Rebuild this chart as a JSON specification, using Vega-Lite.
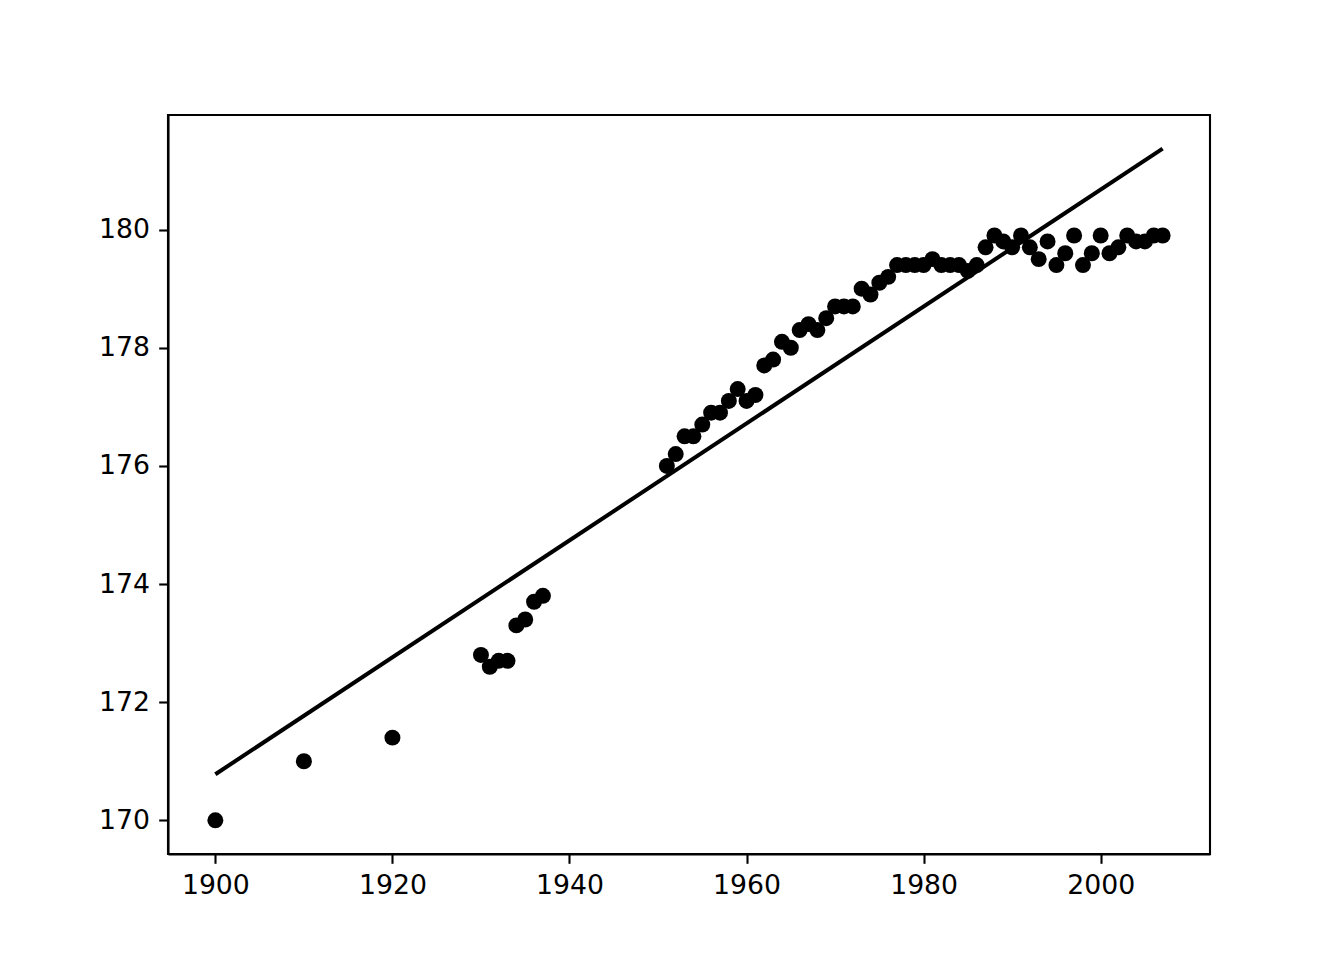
{
  "$schema": "https://vega.github.io/schema/vega-lite/v6.json",
  "width": 1042,
  "height": 739,
  "autosize": {"type": "none"},
  "padding": {"left": 168, "top": 115, "right": 134, "bottom": 106},
  "background": "white",
  "config": {
    "view": {"stroke": "black", "strokeWidth": 2.1},
    "axis": {
      "grid": false,
      "domainColor": "black",
      "domainWidth": 2.1,
      "tickColor": "black",
      "tickWidth": 2.1,
      "tickSize": 9.3,
      "labelPadding": 9.3,
      "labelFont": "DejaVu Sans",
      "labelFontSize": 26.7,
      "labelColor": "black",
      "title": null
    }
  },
  "datasets": {
    "pts": [
      {"year": 1900, "height": 170.0}, {"year": 1910, "height": 171.0}, {"year": 1920, "height": 171.4},
      {"year": 1930, "height": 172.8}, {"year": 1931, "height": 172.6}, {"year": 1932, "height": 172.7},
      {"year": 1933, "height": 172.7}, {"year": 1934, "height": 173.3}, {"year": 1935, "height": 173.4},
      {"year": 1936, "height": 173.7}, {"year": 1937, "height": 173.8},
      {"year": 1951, "height": 176.0}, {"year": 1952, "height": 176.2}, {"year": 1953, "height": 176.5},
      {"year": 1954, "height": 176.5}, {"year": 1955, "height": 176.7}, {"year": 1956, "height": 176.9},
      {"year": 1957, "height": 176.9}, {"year": 1958, "height": 177.1}, {"year": 1959, "height": 177.3},
      {"year": 1960, "height": 177.1}, {"year": 1961, "height": 177.2}, {"year": 1962, "height": 177.7},
      {"year": 1963, "height": 177.8}, {"year": 1964, "height": 178.1}, {"year": 1965, "height": 178.0},
      {"year": 1966, "height": 178.3}, {"year": 1967, "height": 178.4}, {"year": 1968, "height": 178.3},
      {"year": 1969, "height": 178.5}, {"year": 1970, "height": 178.7}, {"year": 1971, "height": 178.7},
      {"year": 1972, "height": 178.7}, {"year": 1973, "height": 179.0}, {"year": 1974, "height": 178.9},
      {"year": 1975, "height": 179.1}, {"year": 1976, "height": 179.2}, {"year": 1977, "height": 179.4},
      {"year": 1978, "height": 179.4}, {"year": 1979, "height": 179.4}, {"year": 1980, "height": 179.4},
      {"year": 1981, "height": 179.5}, {"year": 1982, "height": 179.4}, {"year": 1983, "height": 179.4},
      {"year": 1984, "height": 179.4}, {"year": 1985, "height": 179.3}, {"year": 1986, "height": 179.4},
      {"year": 1987, "height": 179.7}, {"year": 1988, "height": 179.9}, {"year": 1989, "height": 179.8},
      {"year": 1990, "height": 179.7}, {"year": 1991, "height": 179.9}, {"year": 1992, "height": 179.7},
      {"year": 1993, "height": 179.5}, {"year": 1994, "height": 179.8}, {"year": 1995, "height": 179.4},
      {"year": 1996, "height": 179.6}, {"year": 1997, "height": 179.9}, {"year": 1998, "height": 179.4},
      {"year": 1999, "height": 179.6}, {"year": 2000, "height": 179.9}, {"year": 2001, "height": 179.6},
      {"year": 2002, "height": 179.7}, {"year": 2003, "height": 179.9}, {"year": 2004, "height": 179.8},
      {"year": 2005, "height": 179.8}, {"year": 2006, "height": 179.9}, {"year": 2007, "height": 179.9}
    ],
    "fit": [
      {"year": 1900, "height": 170.78},
      {"year": 2007, "height": 181.37}
    ]
  },
  "layer": [
    {
      "data": {"name": "fit"},
      "mark": {"type": "line", "color": "black", "strokeWidth": 4, "clip": true},
      "encoding": {
        "x": {"field": "year", "type": "quantitative", "scale": {"domain": [1894.65, 2012.35], "nice": false, "zero": false},
              "axis": {"values": [1900, 1920, 1940, 1960, 1980, 2000], "format": "d"}},
        "y": {"field": "height", "type": "quantitative", "scale": {"domain": [169.43, 181.94], "nice": false, "zero": false},
              "axis": {"values": [170, 172, 174, 176, 178, 180], "format": "d"}}
      }
    },
    {
      "data": {"name": "pts"},
      "mark": {"type": "point", "filled": true, "color": "black", "opacity": 1, "size": 255, "shape": "circle"},
      "encoding": {
        "x": {"field": "year", "type": "quantitative"},
        "y": {"field": "height", "type": "quantitative"}
      }
    }
  ]
}
